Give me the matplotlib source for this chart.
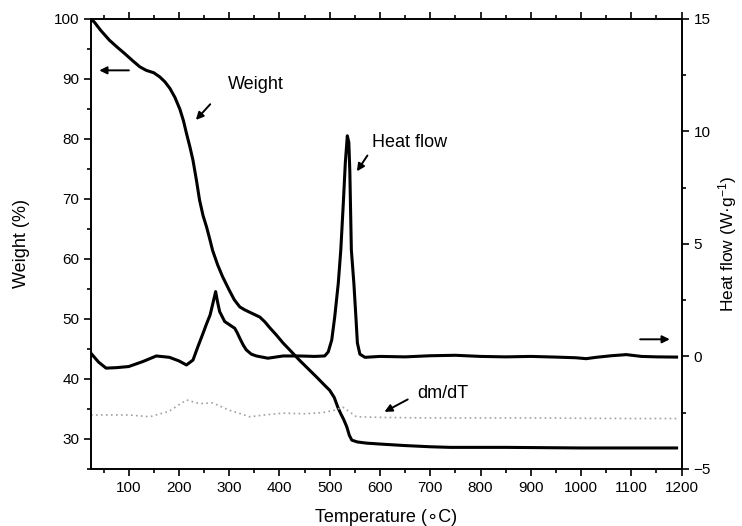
import numpy as np
import matplotlib.pyplot as plt
from matplotlib.ticker import MultipleLocator

plt.rcParams['font.family'] = ['Liberation Sans', 'DejaVu Sans']
plt.rcParams['mathtext.default'] = 'regular'

# weight (%) vs temperature
w_temp = [25, 32, 45, 62, 78, 92, 108, 122, 135, 150, 162, 172, 182, 192, 202, 209, 215,
          222, 228, 235, 241, 248, 255, 261, 267, 277, 287, 300, 310, 321, 331, 341, 351,
          361, 371, 381, 394, 407, 423, 440, 457, 474, 488, 500, 509, 516, 522, 528, 534,
          539, 544, 555, 574, 610, 650, 700, 740, 850, 1000, 1100, 1190]
w_val = [100, 99.4, 98.0, 96.4, 95.2, 94.2, 93.0, 92.0, 91.4, 91.0, 90.3, 89.5, 88.4,
         86.9, 84.9, 83.0, 80.9, 78.6, 76.4, 73.0, 69.8, 67.2, 65.3, 63.4, 61.4, 59.0,
         57.0, 54.8, 53.2, 52.0, 51.5, 51.1, 50.7, 50.3, 49.5, 48.5, 47.3, 46.0, 44.6,
         43.1, 41.7, 40.3, 39.1, 38.1, 36.9, 35.3, 34.2, 33.2, 32.0, 30.6, 29.8, 29.5,
         29.3, 29.1, 28.9, 28.7, 28.6, 28.6, 28.5, 28.5, 28.5]

# heat flow (W/g)
h_temp = [25, 40, 55, 75, 100, 128, 155, 181, 200, 215, 228, 238, 248, 255, 262, 268,
          273, 277, 281, 291, 301, 311, 316, 321, 328, 334, 344, 354, 377, 407, 440, 470,
          490, 497, 504, 510, 517, 522, 527, 531, 535, 538, 540, 543, 548, 552, 555, 560,
          570, 600, 650, 700, 750, 800, 850, 900, 950, 990, 1010, 1030, 1060, 1090, 1120,
          1150, 1190]
h_val = [0.14, -0.25, -0.52, -0.5, -0.45, -0.23, 0.02, -0.04, -0.2, -0.38, -0.16, 0.45,
         1.03, 1.45, 1.84, 2.4, 2.88, 2.4, 1.99, 1.55, 1.4, 1.25, 1.05, 0.81, 0.5, 0.29,
         0.1, 0.02, -0.08, 0.02, 0.02, 0.0, 0.02, 0.2, 0.73, 1.77, 3.25, 4.73, 6.8, 8.6,
         9.8, 9.5, 8.2, 4.73, 3.25, 1.77, 0.6, 0.1, -0.04, 0.0, -0.02, 0.03, 0.05, 0.0,
         -0.02, 0.0, -0.03, -0.06, -0.1, -0.04, 0.03, 0.08, 0.0, -0.02, -0.03]

# dm/dT (arbitrary, drawn on weight scale)
d_temp = [25, 100, 142, 180, 215, 240, 267, 300, 341, 370, 407, 450, 487, 510, 526,
          540, 553, 598, 700, 900, 1100, 1190]
d_val = [34.0, 34.0, 33.7, 34.6, 36.5, 35.9, 36.0, 34.8, 33.7, 34.0, 34.3, 34.2, 34.4,
         34.8, 35.3, 34.5, 33.7, 33.6, 33.5, 33.5, 33.4, 33.4]

fig = plt.figure(figsize=(7.42, 5.26), dpi=100)
ax = fig.add_axes([0.1226, 0.1084, 0.796, 0.856])
ax2 = ax.twinx()

ax.plot(w_temp, w_val, color='k', lw=2.2)
ax.plot(d_temp, d_val, color='#a0a0a0', lw=1.2, linestyle=(0, (1, 2)))
ax2.plot(h_temp, h_val, color='k', lw=2.2)

ax.set_xlim(25, 1200)
ax.set_ylim(25, 100)
ax2.set_ylim(-5, 15)

ax.xaxis.set_major_locator(MultipleLocator(100))
ax.xaxis.set_minor_locator(MultipleLocator(50))
ax.yaxis.set_major_locator(MultipleLocator(10))
ax.yaxis.set_minor_locator(MultipleLocator(5))
ax2.yaxis.set_major_locator(MultipleLocator(5))
ax2.yaxis.set_minor_locator(MultipleLocator(2.5))
ax.set_xticks([t for t in range(100, 1201, 100)])

for a in (ax, ax2):
    for s in a.spines.values():
        s.set_linewidth(1.2)
    a.tick_params(which='major', direction='out', length=5, width=1.2, labelsize=11)
    a.tick_params(which='minor', direction='out', length=3, width=1.2)
ax.tick_params(axis='x', which='both', top=True)
ax.tick_params(axis='x', which='major', pad=4)

ax.set_xlabel('Temperature (\u2218C)', fontsize=13, labelpad=10)
ax.set_ylabel('Weight (%)', fontsize=13, labelpad=17)
ax2.set_ylabel('Heat flow (W\u00b7g$^{-1}$)', fontsize=12.5, labelpad=4)

arrow = dict(arrowstyle='-|>', lw=1.4, color='k', mutation_scale=11)
ax.annotate('', xy=(36, 91.4), xytext=(106, 91.4), arrowprops=arrow)
ax.annotate('', xy=(230, 82.8), xytext=(266, 86.1), arrowprops=arrow)
ax.text(353, 89, 'Weight', fontsize=13, ha='center', va='center')
ax.annotate('', xy=(551, 74.2), xytext=(578, 77.6), arrowprops=arrow)
ax.text(584, 79.3, 'Heat flow', fontsize=13, ha='left', va='center')
ax.annotate('', xy=(604, 34.3), xytext=(660, 36.8), arrowprops=arrow)
ax.text(674, 37.6, 'dm/dT', fontsize=13, ha='left', va='center')
ax2.annotate('', xy=(1182, 0.76), xytext=(1112, 0.76), arrowprops=arrow)

fig.savefig('out.png', dpi=100)
